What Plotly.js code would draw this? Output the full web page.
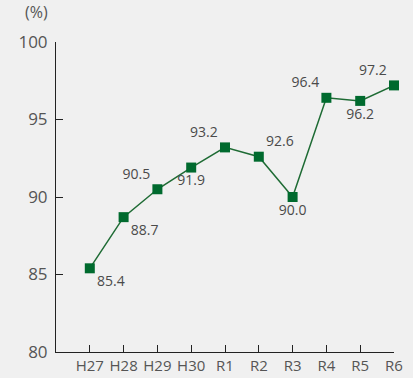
<!DOCTYPE html>
<html><head><meta charset="utf-8">
<script src="https://cdn.plot.ly/plotly-3.0.1.min.js"></script>
<style>html,body{margin:0;padding:0;background:#f0f0f0;}</style>
</head><body><div id="chart" style="width:413px;height:378px;"></div>
<script>
const categories = ["H27","H28","H29","H30","R1","R2","R3","R4","R5","R6"];
const values = [85.4, 88.7, 90.5, 91.9, 93.2, 92.6, 90.0, 96.4, 96.2, 97.2];
const labelPositions = ["bottom right","bottom right","top left","bottom center","top left","top right","bottom center","top left","bottom center","top left"];
const yTicks = [80, 85, 90, 95, 100];

const trace = {
  x: categories.map((c,i)=>i),
  y: values,
  mode: "lines+markers+text",
  text: values.map(v=>v.toFixed(1)),
  textposition: labelPositions,
  textfont: {family: "Open Sans, sans-serif", size: 14, color: "#4a4a4a"},
  line: {color: "#1e6b34", width: 1.5},
  marker: {symbol: "square", size: 10, color: "#006a2e"},
  cliponaxis: false,
  hoverinfo: "skip"
};
const layout = {
  width: 413, height: 378,
  paper_bgcolor: "#f0f0f0", plot_bgcolor: "#f0f0f0",
  margin: {l: 56, r: 19, t: 42, b: 26},
  showlegend: false,
  font: {family: "Open Sans, sans-serif", color: "#555"},
  xaxis: {
    range: [-1, 9], tickvals: categories.map((c,i)=>i), ticktext: categories,
    showgrid: false, zeroline: false, showline: true, linecolor: "#222", linewidth: 1,
    ticks: "inside", ticklen: 7, tickcolor: "#222",
    tickfont: {size: 15, color: "#555"}, fixedrange: true
  },
  yaxis: {
    range: [80, 100], tickvals: yTicks,
    showgrid: false, zeroline: false, showline: true, linecolor: "#222", linewidth: 1,
    ticks: "inside", ticklen: 7, tickcolor: "#222",
    tickfont: {size: 17, color: "#555"}, ticklabelstandoff: 4, fixedrange: true
  },
  annotations: [{
    text: "(%)", xref: "paper", yref: "paper", x: -0.059, y: 1.055,
    xanchor: "center", yanchor: "bottom", showarrow: false,
    font: {size: 16, color: "#555"}
  }]
};
Plotly.newPlot("chart", [trace], layout, {displayModeBar: false, staticPlot: true});
</script></body></html>
